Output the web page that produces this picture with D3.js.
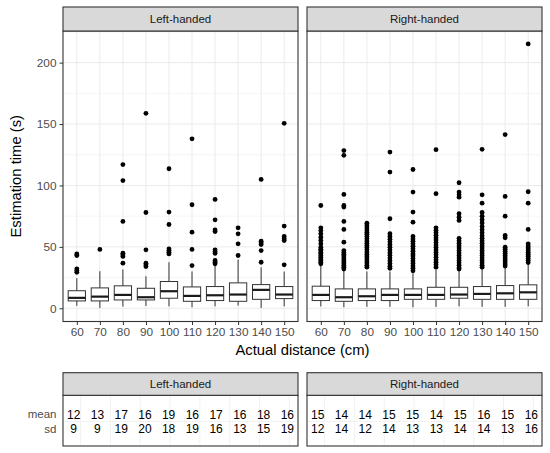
<!DOCTYPE html>
<html>
<head>
<meta charset="utf-8">
<script src="https://cdn.jsdelivr.net/npm/d3@7"></script>
<style>
  body { margin: 0; background: #fff; }
  svg { font-family: Arial, "Liberation Sans", sans-serif; }
</style>
</head>
<body>
<div class="container"></div>
<script>
const distances = [60, 70, 80, 90, 100, 110, 120, 130, 140, 150];
const groups = ['Left-handed', 'Right-handed'];
const yTicks = [0, 50, 100, 150, 200];

// box statistics (seconds)
const leftLower = [2, 0.3, 1.4, 1.9, 1.6, 0.8, 1.6, 2.2, 0.3, 1.6];
const leftQ1 = [6, 6, 6.8, 6.8, 8.2, 5.7, 6.3, 5.7, 7.3, 7.9];
const leftMedian = [8.5, 9.5, 10.9, 9, 13.9, 10.1, 10.6, 11.2, 15, 11.2];
const leftQ3 = [14.3, 16.6, 18.3, 16.3, 21.8, 17.4, 17.7, 20.7, 19.3, 17.7];
const leftUpper = [24.5, 30.2, 31.6, 26.1, 37.5, 30, 34.8, 39.7, 33.4, 29.9];
const leftOutliers = [
  [44.3, 43, 32.1, 30.7, 29.3],
  [47.9],
  [117, 104, 70.7, 44.9, 43.5, 42.2, 36.7],
  [158.7, 78, 47.6, 36.7, 35.4, 34],
  [113.6, 78.3, 68.2, 48.4, 47, 45.7, 44.3],
  [138, 84.3, 62, 47.9, 34.8],
  [88.6, 72, 63.9, 62.5, 47.6, 46.2, 44.8, 38.9, 37.5, 36.2],
  [65.5, 60.6, 52.5, 43],
  [104.9, 54.6, 53.3, 51.9, 47, 37.5],
  [150.6, 66.9, 58.5, 56.6, 55.2, 35.4]
];

const rightLower = [1.5, 0.8, 1.2, 1.2, 0.8, 1.2, 1.6, 1.2, 1.2, 1.6];
const rightQ1 = [6.3, 5.7, 6.3, 6.3, 7.3, 7.3, 8.2, 7.3, 7.3, 7.3];
const rightMedian = [10.9, 9, 9.8, 10.9, 10.9, 10.9, 11.2, 11.7, 12.2, 13];
const rightQ3 = [18, 15.8, 15.8, 15.8, 15.8, 17.1, 17.1, 17.7, 18.5, 19.1];
const rightUpper = [35, 31, 30, 30, 28.5, 31.5, 30.5, 33, 35, 36];
const rightOutliers = [
  [83.7, 65.5, 63.3, 60.6, 57.9, 55.2, 52.5, 49.7, 48, 47, 45.5, 44.4, 43, 41.6, 40.2, 38.9, 37.5, 36.2],
  [128.4, 124.5, 92.7, 83.7, 82.4, 70.7, 64.2, 53.8, 47, 45.5, 44, 42.5, 41, 39.5, 38, 36.5, 35, 33.5, 32],
  [69.3, 67.5, 65.6, 63.8, 62, 60.2, 58.4, 56.6, 54.8, 53, 51.2, 49.4, 47.6, 45.8, 44, 42.2, 40.4, 38.6, 36.8, 35, 33.5],
  [127.2, 110.9, 72.9, 60.7, 58.5, 56.3, 54.1, 51.9, 49.7, 47.5, 45.3, 43.1, 40.9, 38.7, 36.5, 34.3, 32.5],
  [113, 94.6, 78.3, 70.1, 58.5, 56.5, 54.5, 52.5, 50.5, 48.5, 46.5, 44.5, 42.5, 40.5, 38.5, 36.5, 34.5, 32.5, 30.5],
  [129.1, 93.3, 65.5, 63.5, 61.5, 59.5, 57.5, 55.5, 53.5, 51.5, 49.5, 47.5, 45.5, 43.5, 41.5, 39.5, 37.5, 35.5, 33.5],
  [102.2, 94.6, 92.4, 90.5, 77, 74.2, 71.5, 57, 55, 53, 51, 49, 47, 45, 43, 41, 39, 37, 35, 33, 32],
  [129.4, 92.4, 85.6, 78, 75, 72, 69.5, 66.5, 64, 61.5, 59, 57, 55, 53, 51, 49, 47, 45, 43, 41, 39, 37, 35, 33.5],
  [141.4, 91.1, 75, 59.3, 57.4, 49.7, 48, 46.3, 44.6, 42.9, 41.2, 39.5, 37.8, 36.1, 34.4],
  [215.2, 94.9, 85.6, 64.2, 52.5, 50.8, 49.1, 47.4, 45.7, 44, 42.3, 40.6, 38.9, 37.2]
];

const meanLeft = [12, 13, 17, 16, 19, 16, 17, 16, 18, 16];
const sdLeft = [9, 9, 19, 20, 18, 19, 16, 13, 15, 19];
const meanRight = [15, 14, 14, 15, 15, 14, 15, 16, 15, 16];
const sdRight = [12, 14, 12, 14, 13, 13, 14, 14, 13, 16];
const rowLabels = ['mean', 'sd'];

const width = 550;
const height = 453;

const panels = [
  { x0: 63, x1: 298, lower: leftLower, q1: leftQ1, median: leftMedian, q3: leftQ3, upper: leftUpper, outliers: leftOutliers, mean: meanLeft, sd: sdLeft },
  { x0: 307, x1: 542, lower: rightLower, q1: rightQ1, median: rightMedian, q3: rightQ3, upper: rightUpper, outliers: rightOutliers, mean: meanRight, sd: sdRight }
];

const strip = { top: 7, bottom: 31 };
const plotBottom = 321.5;
const table = { top: 372.7, strip: 395.3, bottom: 446 };

const dark = '#333333';
const grid = '#EBEBEB';
const tickText = '#4D4D4D';

const yScale = d3.scaleLinear()
  .domain([-10.75, 225.75])
  .range([plotBottom, strip.bottom]);

const svg = d3.select('.container')
  .append('svg')
  .attr('width', width)
  .attr('height', height);

panels.forEach((p, pi) => {
  const xScale = d3.scalePoint()
    .domain(distances)
    .range([p.x0, p.x1])
    .padding(0.6);
  const bw = xScale.step() * 0.75;
  const g = svg.append('g');

  // panel background + grid
  g.append('rect')
    .attr('x', p.x0).attr('y', strip.bottom)
    .attr('width', p.x1 - p.x0).attr('height', plotBottom - strip.bottom)
    .attr('fill', '#fff');

  const minor = d3.range(25, 226, 50);
  g.selectAll('.minor')
    .data(minor)
    .enter().append('line')
    .attr('x1', p.x0).attr('x2', p.x1)
    .attr('y1', d => yScale(d)).attr('y2', d => yScale(d))
    .attr('stroke', grid).attr('stroke-width', 0.5);

  g.selectAll('.hmajor')
    .data(yTicks)
    .enter().append('line')
    .attr('x1', p.x0).attr('x2', p.x1)
    .attr('y1', d => yScale(d)).attr('y2', d => yScale(d))
    .attr('stroke', grid).attr('stroke-width', 1);

  g.selectAll('.vmajor')
    .data(distances)
    .enter().append('line')
    .attr('x1', d => xScale(d)).attr('x2', d => xScale(d))
    .attr('y1', strip.bottom).attr('y2', plotBottom)
    .attr('stroke', grid).attr('stroke-width', 1);

  // boxplots
  const boxes = g.selectAll('.box')
    .data(distances)
    .enter().append('g');

  boxes.append('line')
    .attr('x1', d => xScale(d)).attr('x2', d => xScale(d))
    .attr('y1', (d, i) => yScale(p.lower[i])).attr('y2', (d, i) => yScale(p.q1[i]))
    .attr('stroke', dark).attr('stroke-width', 1);
  boxes.append('line')
    .attr('x1', d => xScale(d)).attr('x2', d => xScale(d))
    .attr('y1', (d, i) => yScale(p.q3[i])).attr('y2', (d, i) => yScale(p.upper[i]))
    .attr('stroke', dark).attr('stroke-width', 1);
  boxes.append('rect')
    .attr('x', d => xScale(d) - bw / 2)
    .attr('y', (d, i) => yScale(p.q3[i]))
    .attr('width', bw)
    .attr('height', (d, i) => yScale(p.q1[i]) - yScale(p.q3[i]))
    .attr('fill', '#fff').attr('stroke', dark).attr('stroke-width', 1);
  boxes.append('line')
    .attr('x1', d => xScale(d) - bw / 2).attr('x2', d => xScale(d) + bw / 2)
    .attr('y1', (d, i) => yScale(p.median[i])).attr('y2', (d, i) => yScale(p.median[i]))
    .attr('stroke', '#1a1a1a').attr('stroke-width', 2.2);

  boxes.selectAll('circle')
    .data((d, i) => p.outliers[i].map(v => ({ x: d, v })))
    .enter().append('circle')
    .attr('cx', d => xScale(d.x))
    .attr('cy', d => yScale(d.v))
    .attr('r', 2.4)
    .attr('fill', '#000');

  // panel border
  g.append('rect')
    .attr('x', p.x0).attr('y', strip.bottom)
    .attr('width', p.x1 - p.x0).attr('height', plotBottom - strip.bottom)
    .attr('fill', 'none').attr('stroke', dark).attr('stroke-width', 1.1);

  // strip
  g.append('rect')
    .attr('x', p.x0).attr('y', strip.top)
    .attr('width', p.x1 - p.x0).attr('height', strip.bottom - strip.top)
    .attr('fill', '#D9D9D9').attr('stroke', dark).attr('stroke-width', 1.1);
  g.append('text')
    .attr('x', (p.x0 + p.x1) / 2).attr('y', (strip.top + strip.bottom) / 2)
    .attr('dy', '0.35em')
    .attr('text-anchor', 'middle')
    .attr('font-size', 11.5).attr('fill', '#1A1A1A')
    .text(groups[pi]);

  // x axis
  const xAxis = d3.axisBottom(xScale).tickSize(3.5).tickPadding(3);
  const ax = g.append('g')
    .attr('transform', `translate(0, ${plotBottom})`)
    .call(xAxis);
  ax.select('.domain').remove();
  ax.selectAll('line').attr('stroke', dark);
  ax.selectAll('text').attr('font-size', 11.8).attr('fill', tickText)
    .attr('font-family', 'Arial, "Liberation Sans", sans-serif');

  if (pi === 0) {
    const yAxis = d3.axisLeft(yScale).tickValues(yTicks).tickSize(3.5).tickPadding(3);
    const ay = g.append('g')
      .attr('transform', `translate(${p.x0}, 0)`)
      .call(yAxis);
    ay.select('.domain').remove();
    ay.selectAll('line').attr('stroke', dark);
    ay.selectAll('text').attr('font-size', 11.8).attr('fill', tickText)
      .attr('font-family', 'Arial, "Liberation Sans", sans-serif');
  }

  // summary table
  const tx = d3.scalePoint()
    .domain(distances)
    .range([p.x0, p.x1])
    .padding(0.45);
  const ty = d3.scalePoint()
    .domain(rowLabels)
    .range([table.strip + 19, table.strip + 33.5]);
  const gx = d3.scaleLinear()
    .domain([-0.59, 7.29])
    .range([p.x0, p.x1]);

  const t = svg.append('g');
  t.append('rect')
    .attr('x', p.x0).attr('y', table.strip)
    .attr('width', p.x1 - p.x0).attr('height', table.bottom - table.strip)
    .attr('fill', '#fff');
  t.selectAll('.tv')
    .data(d3.range(0, 8))
    .enter().append('line')
    .attr('x1', d => gx(d)).attr('x2', d => gx(d))
    .attr('y1', table.strip).attr('y2', table.bottom)
    .attr('stroke', '#F2F2F2').attr('stroke-width', 1);
  t.append('line')
    .attr('x1', p.x0).attr('x2', p.x1)
    .attr('y1', (ty('mean') + ty('sd')) / 2).attr('y2', (ty('mean') + ty('sd')) / 2)
    .attr('stroke', '#F2F2F2').attr('stroke-width', 1);

  rowLabels.forEach(row => {
    const vals = row === 'mean' ? p.mean : p.sd;
    t.selectAll(`.v-${row}`)
      .data(distances)
      .enter().append('text')
      .attr('x', d => tx(d))
      .attr('y', ty(row))
      .attr('dy', '0.35em')
      .attr('text-anchor', 'middle')
      .attr('font-size', 12).attr('fill', '#000')
      .text((d, i) => vals[i]);
  });

  t.append('rect')
    .attr('x', p.x0).attr('y', table.strip)
    .attr('width', p.x1 - p.x0).attr('height', table.bottom - table.strip)
    .attr('fill', 'none').attr('stroke', dark).attr('stroke-width', 1.1);
  t.append('rect')
    .attr('x', p.x0).attr('y', table.top)
    .attr('width', p.x1 - p.x0).attr('height', table.strip - table.top)
    .attr('fill', '#D9D9D9').attr('stroke', dark).attr('stroke-width', 1.1);
  t.append('text')
    .attr('x', (p.x0 + p.x1) / 2).attr('y', (table.top + table.strip) / 2)
    .attr('dy', '0.35em')
    .attr('text-anchor', 'middle')
    .attr('font-size', 11.5).attr('fill', '#1A1A1A')
    .text(groups[pi]);

  if (pi === 0) {
    t.selectAll('.rowlab')
      .data(rowLabels)
      .enter().append('text')
      .attr('x', p.x0 - 6.5)
      .attr('y', d => ty(d))
      .attr('dy', '0.35em')
      .attr('text-anchor', 'end')
      .attr('font-size', 11.5).attr('fill', tickText)
      .text(d => d);
  }
});

// axis titles
svg.append('text')
  .attr('x', (panels[0].x0 + panels[1].x1) / 2)
  .attr('y', 350)
  .attr('dy', '0.35em')
  .attr('text-anchor', 'middle')
  .attr('font-size', 14.8)
  .attr('fill', '#000')
  .text('Actual distance (cm)');

svg.append('text')
  .attr('transform', `translate(16, ${(strip.bottom + plotBottom) / 2}) rotate(-90)`)
  .attr('dy', '0.35em')
  .attr('text-anchor', 'middle')
  .attr('font-size', 14.8)
  .attr('fill', '#000')
  .text('Estimation time (s)');
</script>
</body>
</html>
